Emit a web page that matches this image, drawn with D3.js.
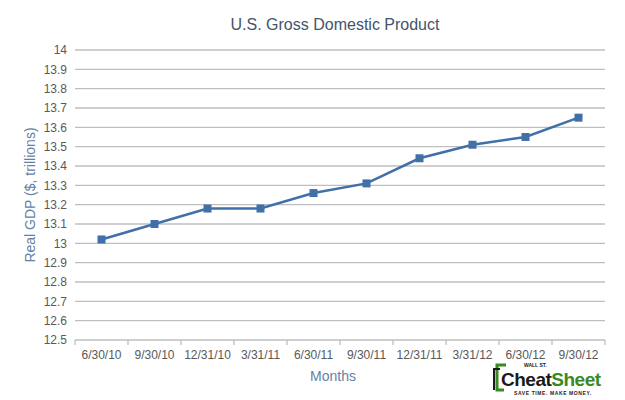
<!DOCTYPE html>
<html>
<head>
<meta charset="utf-8">
<script src="https://cdn.jsdelivr.net/npm/d3@7"></script>
<style>
  body { margin: 0; background: #fff; }
  text { font-family: "Liberation Sans", Arial, sans-serif; }
</style>
</head>
<body>
<svg id="chart" width="625" height="400"></svg>
<script>
// quarterly real GDP, trillions of dollars
const months = ["6/30/10", "9/30/10", "12/31/10", "3/31/11", "6/30/11",
                "9/30/11", "12/31/11", "3/31/12", "6/30/12", "9/30/12"];
const gdp = [13.02, 13.10, 13.18, 13.18, 13.26, 13.31, 13.44, 13.51, 13.55, 13.65];
const yTicks = [12.5, 12.6, 12.7, 12.8, 12.9, 13, 13.1, 13.2, 13.3, 13.4,
                13.5, 13.6, 13.7, 13.8, 13.9, 14];

const svg = d3.select("#chart");
const margin = { top: 50, right: 20, bottom: 60, left: 75 };
const width = 625 - margin.left - margin.right;
const height = 400 - margin.top - margin.bottom;

const x = d3.scaleBand().domain(months).range([0, width]);
const y = d3.scaleLinear().domain([12.5, 14]).range([height, 0]);

const g = svg.append("g").attr("transform", `translate(${margin.left},${margin.top})`);

// gridlines
g.append("g")
    .selectAll("line")
    .data(yTicks)
    .enter().append("line")
    .attr("x1", 0)
    .attr("x2", width)
    .attr("y1", d => y(d))
    .attr("y2", d => y(d))
    .attr("stroke", "#bfbfbf")
    .attr("stroke-width", 1.3);

// y tick labels
const yAxis = g.append("g")
    .call(d3.axisLeft(y).tickValues(yTicks).tickSize(0).tickPadding(8).tickFormat(d => d3.format("~g")(d)));
yAxis.select(".domain").remove();
yAxis.selectAll("text")
    .attr("fill", "#595959")
    .style("font-size", "12px");

// x axis with category separators
const xAxis = g.append("g")
    .attr("transform", `translate(0,${height})`)
    .call(d3.axisBottom(x).tickSize(0).tickPadding(10));
xAxis.select(".domain").remove();
xAxis.selectAll("text")
    .attr("fill", "#595959")
    .style("font-size", "12px");
g.append("g")
    .selectAll("line")
    .data(d3.range(months.length + 1))
    .enter().append("line")
    .attr("x1", i => i * x.bandwidth())
    .attr("x2", i => i * x.bandwidth())
    .attr("y1", height)
    .attr("y2", height + 5)
    .attr("stroke", "#bfbfbf")
    .attr("stroke-width", 1.3);

// series line
const line = d3.line()
    .x((d, i) => x(months[i]) + x.bandwidth() / 2)
    .y(d => y(d));

g.append("path")
    .datum(gdp)
    .attr("fill", "none")
    .attr("stroke", "#4170a8")
    .attr("stroke-width", 2.5)
    .attr("d", line);

g.append("g")
    .selectAll("rect")
    .data(gdp)
    .enter().append("rect")
    .attr("x", (d, i) => x(months[i]) + x.bandwidth() / 2 - 4)
    .attr("y", d => y(d) - 4)
    .attr("width", 8)
    .attr("height", 8)
    .attr("fill", "#4170a8");

// titles
svg.append("text")
    .attr("x", margin.left + width / 2 - 5)
    .attr("y", 30)
    .attr("text-anchor", "middle")
    .attr("fill", "#44546a")
    .style("font-size", "16px")
    .text("U.S. Gross Domestic Product");

svg.append("text")
    .attr("transform", `translate(35,${margin.top + height / 2}) rotate(-90)`)
    .attr("text-anchor", "middle")
    .attr("fill", "#6482a6")
    .style("font-size", "14px")
    .text("Real GDP ($, trillions)");

svg.append("text")
    .attr("x", margin.left + width / 2 - 7)
    .attr("y", 381)
    .attr("text-anchor", "middle")
    .attr("fill", "#6482a6")
    .style("font-size", "14px")
    .text("Months");

// logo
const logo = svg.append("g").attr("transform", "translate(494,362)");
logo.append("path")
    .attr("d", "M12,3 L3,3 L3,28 L10,28")
    .attr("fill", "none")
    .attr("stroke", "#3a8a22")
    .attr("stroke-width", 3);
logo.append("path")
    .attr("d", "M6,7 L0,7 L0,28")
    .attr("fill", "none")
    .attr("stroke", "#1a1a1a")
    .attr("stroke-width", 2);
logo.append("text")
    .attr("x", 30)
    .attr("y", 5)
    .attr("fill", "#222")
    .style("font-size", "5px")
    .style("font-weight", "bold")
    .text("WALL ST.");
logo.append("text")
    .attr("x", 7)
    .attr("y", 24)
    .style("font-size", "19px")
    .style("font-weight", "bold")
    .style("letter-spacing", "-0.5px")
    .call(t => {
        t.append("tspan").attr("fill", "#1a1a1a").text("Cheat");
        t.append("tspan").attr("fill", "#3a8a22").text("Sheet");
    });
logo.append("text")
    .attr("x", 20)
    .attr("y", 33)
    .attr("fill", "#222")
    .style("font-size", "5px")
    .style("font-weight", "bold")
    .style("letter-spacing", "0.6px")
    .text("SAVE TIME. MAKE MONEY.");
</script>
</body>
</html>
